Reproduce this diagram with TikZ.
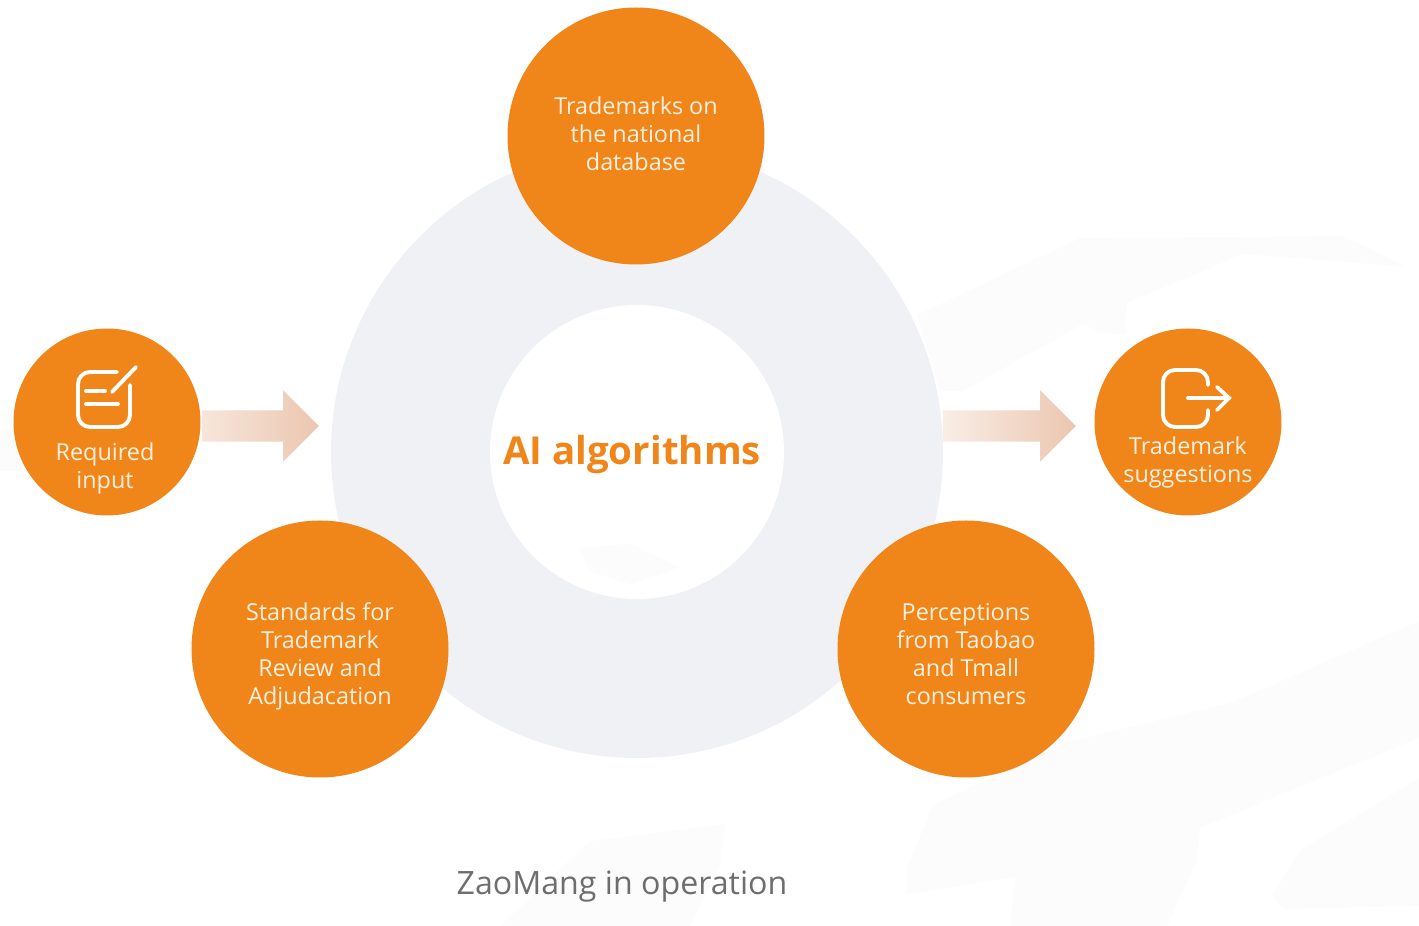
\documentclass[tikz,border=0pt]{standalone}
\usepackage{fontspec}
\setmainfont{Open Sans}
\usetikzlibrary{positioning,shapes.arrows}
\definecolor{zaoorange}{HTML}{F08619}
\definecolor{ringgray}{HTML}{F0F1F4}
\definecolor{brushgray}{HTML}{FCFCFC}
\definecolor{captiongray}{HTML}{6E6E6E}
\definecolor{labelcream}{HTML}{FDF0E0}
\definecolor{arrowpale}{HTML}{F7E6DB}
\definecolor{arrowdeep}{HTML}{EBC6B0}
\tikzset{
	bigcircle/.style={circle, fill=zaoorange, inner sep=0pt, minimum size=2.57cm},
	smallcircle/.style={circle, fill=zaoorange, inner sep=0pt, minimum size=1.87cm},
	circlelabel/.style={text=labelcream, inner sep=0pt, align=center, font=\fontsize{6.65}{8}\selectfont},
	flowarrow/.style={single arrow, inner xsep=0pt, inner ysep=0.15cm, minimum width=0.7cm, single arrow head extend=0.2cm},
	iconline/.style={draw=white, line width=1.1pt, line cap=round},
}
\begin{document}
\begin{tikzpicture}
		\useasboundingbox (0,0) rectangle (14.19,9.26);

		% 背景笔刷
		\fill[brushgray] (9.17,6.11) -- (10.80,6.88) -- (13.43,6.90) -- (14.07,6.59) -- (12.43,6.72) -- (11.27,6.23) -- (11.25,5.91) -- (11.00,5.93) -- (10.83,6.02) -- (9.63,5.35) -- (9.40,5.35) -- cycle;
		\fill[brushgray] (14.19,3.05) -- (12.33,2.24) -- (10.67,1.84) -- (9.33,1.21) -- (9.07,0.58) -- (9.07,0.31) -- (10.15,0.49) -- (10.10,0) -- (11.67,0) -- (11.97,0.66) -- (12.00,0.98) -- (14.19,1.88) -- cycle;
		\fill[brushgray] (14.19,1.48) -- (13.00,0.76) -- (12.72,0.30) -- (12.83,0.17) -- (14.19,0.20) -- cycle;
		\fill[brushgray] (5.00,0) -- (5.90,0.85) -- (7.25,1.02) -- (7.20,0.60) -- (6.90,0) -- cycle;
		\fill[brushgray] (0,4.95) -- (0.2,5.0) -- (0.2,4.55) -- (0,4.55) -- cycle;

		% 圆环
		\node[circle, fill=ringgray, minimum size=6.12cm, inner sep=0pt] (ring) at (6.37,4.74) {};
		\node[circle, fill=white, minimum size=2.94cm, inner sep=0pt] (core) at (ring) {};
		\fill[brushgray] (5.80,3.78) -- (6.30,3.82) -- (6.80,3.58) -- (6.30,3.42) -- (5.90,3.55) -- cycle;
		\node[inner sep=0pt, text=zaoorange, font=\fontsize{10.95}{14}\bfseries\selectfont] (algo) at (6.32,4.71) {AI algorithms};

		% 三个大圆
		\foreach \name/\x/\y/\ty/\txt in {database/6.36/7.90/7.89/{\strut Trademarks on\\the national\\database\strut}, standards/3.20/2.77/2.69/{\strut Standards for\\Trademark\\Review and\\Adjudacation\strut}, perceptions/9.66/2.77/2.69/{\strut Perceptions\\from Taobao\\and Tmall\\consumers\strut}}{
			\node[bigcircle] (\name) at (\x,\y) {};
			\node[circlelabel] (\name label) at (\x,\ty) {\txt};
		}

		% 输入和输出
		\node[smallcircle] (input) at (1.07,5.04) {};
		\node[smallcircle] (output) at (11.88,5.04) {};
		\node[circlelabel] (inputlabel) at (1.05,4.58) {Required\\input};
		\node[circlelabel] (outputlabel) at (11.88,4.64) {Trademark\\suggestions};

		% 箭头
		\node[flowarrow, minimum height=1.17cm, left color=arrowpale, right color=arrowdeep, right=0pt of input, yshift=-0.04cm] (inarrow) {};
		\node[flowarrow, minimum height=1.33cm, left color=arrowpale!70!white, right color=arrowdeep, left=0.17cm of output, yshift=-0.04cm] (outarrow) {};

		% 输入图标
		\draw[iconline] (1.17,5.54) -- (0.90,5.54) arc (90:180:0.12) -- (0.78,5.11) arc (180:270:0.12) -- (1.18,4.99) arc (270:360:0.12) -- (1.30,5.41);
		\draw[iconline] (1.12,5.34) -- (1.36,5.59);
		\draw[iconline] (0.86,5.35) -- (1.05,5.35);
		\draw[iconline] (0.86,5.22) -- (1.18,5.22);

		% 输出图标
		\draw[iconline] (12.08,5.41) -- (12.08,5.44) arc (0:90:0.12) -- (11.75,5.56) arc (90:180:0.12) -- (11.63,5.11) arc (180:270:0.12) -- (11.96,4.99) arc (270:360:0.12) -- (12.08,5.16);
		\draw[iconline] (11.88,5.28) -- (12.29,5.28);
		\draw[iconline] (12.17,5.39) -- (12.29,5.28) -- (12.17,5.16);

		% 图题
		\node[inner sep=0pt, text=captiongray, font=\fontsize{9.15}{11}\selectfont] (caption) at (6.22,0.39) {ZaoMang in operation};
	\end{tikzpicture}
\end{document}
